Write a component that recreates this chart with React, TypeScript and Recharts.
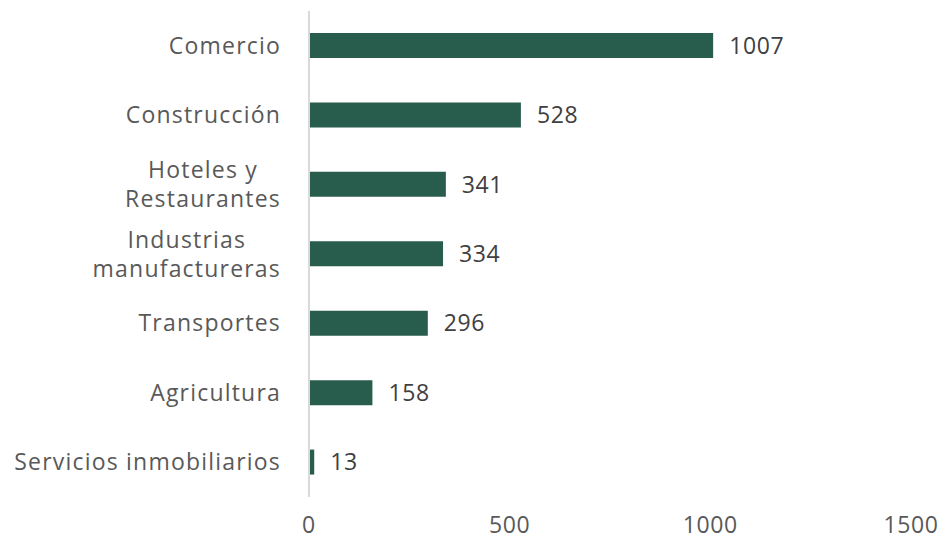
import { BarChart, Bar, XAxis, YAxis, LabelList } from 'recharts';

const categories = [
  'Comercio',
  'Construcción',
  'Hoteles y\nRestaurantes',
  'Industrias\nmanufactureras',
  'Transportes',
  'Agricultura',
  'Servicios inmobiliarios',
];
const values = [1007, 528, 341, 334, 296, 158, 13];
const xTicks = [0, 500, 1000, 1500];

const data = categories.map((name, i) => ({ name, value: values[i] }));

const FONT = '"Open Sans", "Noto Sans", sans-serif';
const FONT_SIZE = 23;
const SPACING = 1.2;

let ctx: CanvasRenderingContext2D | null = null;
const measure = (s: string) => {
  if (!ctx) ctx = document.createElement('canvas').getContext('2d');
  if (!ctx) return s.length * 12;
  ctx.font = `${FONT_SIZE}px ${FONT}`;
  return ctx.measureText(s).width + s.length * SPACING;
};

// multi-line labels are centred on each other, right-aligned as a block
const CategoryTick = ({ x, y, payload }: any) => {
  const lines = String(payload.value).split('\n');
  const lineH = 29;
  const widest = Math.max(...lines.map(measure));
  const cx = x - widest / 2;
  const startY = y - ((lines.length - 1) * lineH) / 2;
  return (
    <g>
      {lines.map((l, i) => (
        <text
          key={i}
          x={lines.length > 1 ? cx : x}
          y={startY + i * lineH}
          dy="0.35em"
          textAnchor={lines.length > 1 ? 'middle' : 'end'}
          fill="#595959"
          fontSize={FONT_SIZE}
          fontFamily={FONT}
          letterSpacing={SPACING}
        >
          {l}
        </text>
      ))}
    </g>
  );
};

export default function App() {
  return (
    <div style={{ position: 'absolute', left: 0, top: 0, background: '#fff' }}>
      <BarChart
        width={943}
        height={539}
        data={data}
        layout="vertical"
        margin={{ top: 11, right: 32, left: 0, bottom: 0 }}
        barCategoryGap={22}
      >
        <XAxis
          type="number"
          domain={[0, 1500]}
          ticks={xTicks}
          axisLine={false}
          tickLine={false}
          tickMargin={14}
          height={42}
          tick={{ fill: '#595959', fontSize: FONT_SIZE, fontFamily: FONT, letterSpacing: 0.6 }}
        />
        <YAxis
          type="category"
          dataKey="name"
          width={309}
          axisLine={{ stroke: '#d9d9d9', strokeWidth: 2 }}
          tickLine={false}
          tickMargin={22}
          tick={<CategoryTick />}
        />
        <Bar dataKey="value" fill="#285c4d" isAnimationActive={false}>
          <LabelList
            dataKey="value"
            position="right"
            offset={16}
            fill="#404040"
            fontSize={FONT_SIZE}
            fontFamily={FONT}
            letterSpacing={0.6}
          />
        </Bar>
      </BarChart>
    </div>
  );
}
